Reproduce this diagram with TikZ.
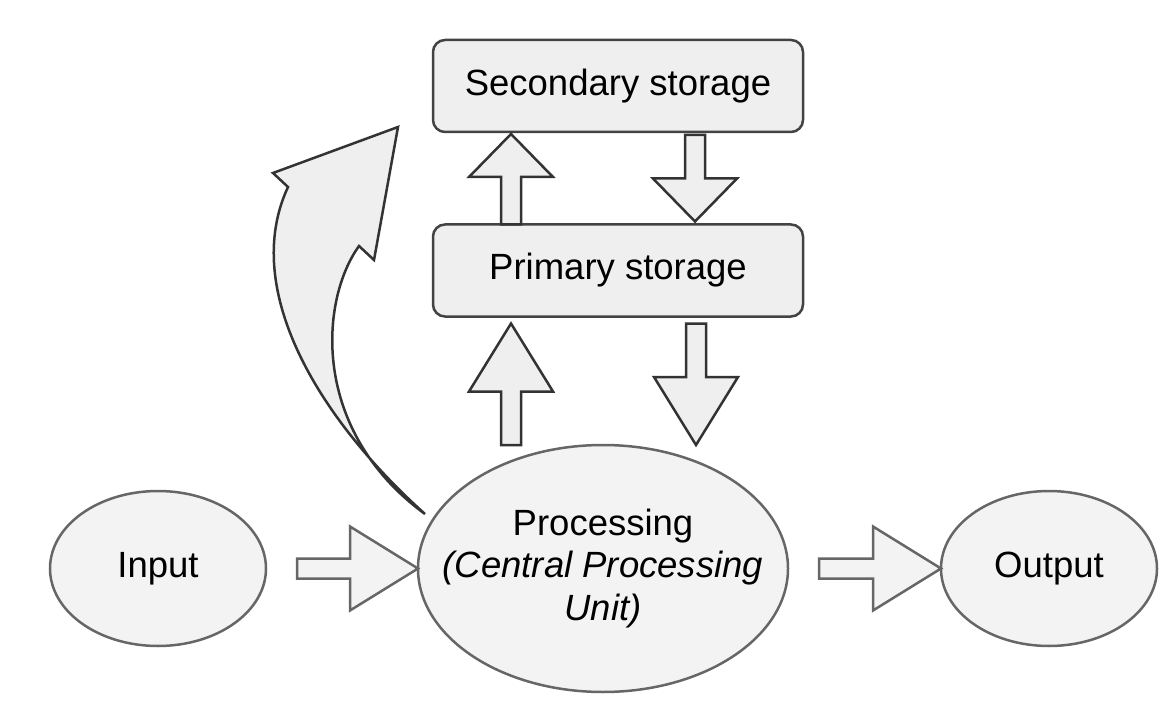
\documentclass[tikz,border=0pt]{standalone}
\usepackage{fontspec}
\setmainfont{Liberation Sans}
\usetikzlibrary{shapes.geometric,calc}

\definecolor{boxfill}{HTML}{EFEFEF}
\definecolor{ovalfill}{HTML}{F3F3F3}
\definecolor{boxline}{HTML}{434343}
\definecolor{ovalline}{HTML}{666666}
\definecolor{arrline}{HTML}{333333}

\newcommand{\shaftw}{5pt}
\newcommand{\headw}{21pt}
\newcommand{\blockarrow}[4][blk]{%
  \draw[#1] let \p1=(#2), \p2=(#3), \n1={veclen(\x2-\x1,\y2-\y1)},
    \n2={(\x2-\x1)/\n1}, \n3={(\y2-\y1)/\n1} in
    ({\x1-(\n3)*\shaftw},{\y1+(\n2)*\shaftw})
    -- ({\x2-(\n2)*(#4)-(\n3)*\shaftw},{\y2-(\n3)*(#4)+(\n2)*\shaftw})
    -- ({\x2-(\n2)*(#4)-(\n3)*\headw},{\y2-(\n3)*(#4)+(\n2)*\headw})
    -- (\p2)
    -- ({\x2-(\n2)*(#4)+(\n3)*\headw},{\y2-(\n3)*(#4)-(\n2)*\headw})
    -- ({\x2-(\n2)*(#4)+(\n3)*\shaftw},{\y2-(\n3)*(#4)-(\n2)*\shaftw})
    -- ({\x1+(\n3)*\shaftw},{\y1-(\n2)*\shaftw}) -- cycle;}

\begin{document}
\begin{tikzpicture}[
  x=0.5pt, y=-0.5pt,
  store/.style={rectangle, draw=boxline, fill=boxfill, rounded corners=6pt,
    line width=1.25pt, minimum width=185pt, minimum height=46pt,
    inner sep=0pt, outer sep=0pt, font=\fontsize{18.25}{21.25}\selectfont},
  oval/.style={ellipse, draw=ovalline, fill=ovalfill, line width=1.25pt,
    inner xsep=-20pt, inner ysep=0pt, outer sep=0pt, align=center,
    font=\fontsize{18.25}{21.25}\selectfont},
  blk/.style={draw=arrline, fill=boxfill, line width=1.25pt, line join=miter},
  blkio/.style={blk, draw=ovalline, fill=ovalfill}
]
  \useasboundingbox (0,0) rectangle (1167,711);

  \node[store] (sec) at (618,86) {Secondary storage};
  \node[store] (prim) at (618,270.5) {Primary storage};
  \node[oval, minimum width=185pt, minimum height=123.5pt] (proc) at (603,568.5)
    {Processing\\ \textit{(Central Processing}\\ \textit{Unit)}};
  \node[oval, minimum width=108pt, minimum height=77.5pt] (inp) at (158,568.5) {Input};
  \node[oval, minimum width=108pt, minimum height=77.5pt] (outp) at (1049,568.5) {Output};

  \coordinate (inT) at ($(inp.east)+(31,0)$);
  \coordinate (outT) at ($(proc.east)+(31,0)$);
  \coordinate (puT) at ($(proc.north)+(-92,0)$);
  \coordinate (puH) at ($(prim.south)+(-107,7)$);
  \coordinate (pdT) at ($(prim.south)+(78,7)$);
  \coordinate (pdH) at ($(proc.north)+(93,0)$);
  \coordinate (suT) at ($(prim.north)+(-107,0)$);
  \coordinate (suH) at ($(sec.south)+(-107,2)$);
  \coordinate (sdT) at ($(sec.south)+(77,3)$);
  \coordinate (sdH) at ($(prim.north)+(77,-3)$);
  \coordinate (bend) at (425,514);

  \blockarrow[blkio]{inT}{proc.west}{34pt}
  \blockarrow[blkio]{outT}{outp.west}{34pt}
  \blockarrow{puT}{puH}{34pt}
  \blockarrow{pdT}{pdH}{34pt}
  \blockarrow{suT}{suH}{21.5pt}
  \blockarrow{sdT}{sdH}{21.5pt}

  \draw[blk] (bend) .. controls (320,420) and (240,290) .. (288,187)
    -- (273,173) -- (398,127) -- (374,260) -- (359,246)
    .. controls (320,300) and (310,430) .. cycle;
\end{tikzpicture}
\end{document}
